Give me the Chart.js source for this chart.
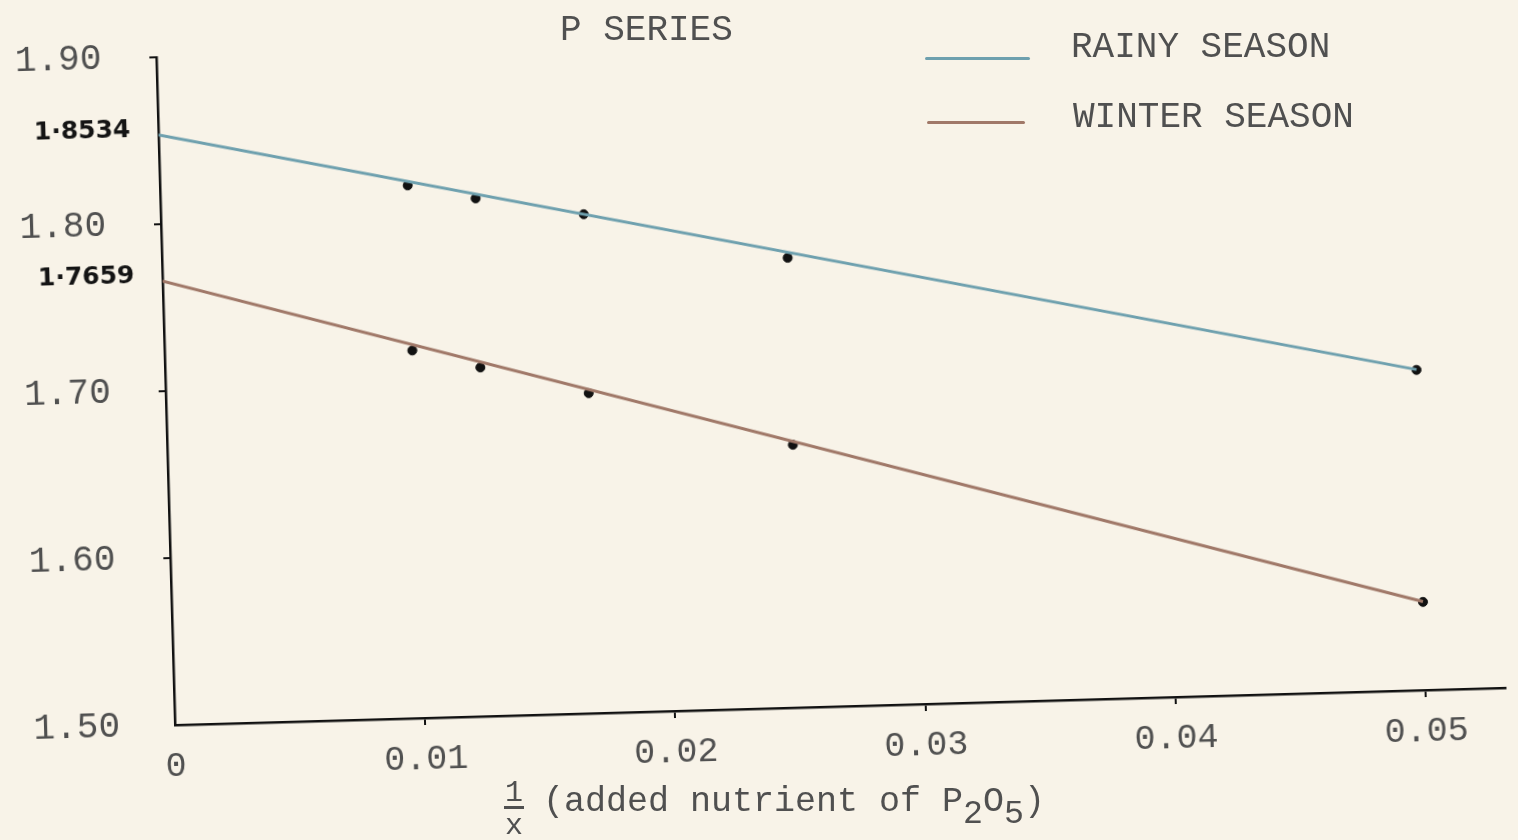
<!DOCTYPE html>
<html>
<head>
<meta charset="utf-8">
<title>P Series</title>
<script src="https://cdn.jsdelivr.net/npm/chart.js@4.4.1/dist/chart.umd.min.js"></script>
<style>
    html, body {
        margin: 0;
        padding: 0;
        width: 1518px;
        height: 840px;
        overflow: hidden;
        background: #f8f3e8;
        font-family: "Liberation Mono", "DejaVu Sans Mono", monospace;
        color: #505050;
    }
    #plot {
        position: absolute;
        left: 0;
        top: 0;
        width: 1518px;
        height: 840px;
        /* the scanned sheet sits slightly crooked */
        transform: rotate(-1.6deg);
        transform-origin: 175px 725px;
    }
    .typed {
        position: absolute;
        white-space: nowrap;
        line-height: 1;
    }
    .key {
        position: absolute;
        height: 3px;
        border-radius: 2px;
    }
    sub { font-size: 0.95em; vertical-align: -0.35em; line-height: 0; }
</style>
</head>
<body>
<div id="plot"><canvas id="chartP" width="1518" height="840"></canvas></div>

<div class="typed" style="left:560px; top:13px; font-size:36px;">P SERIES</div>

<div class="key" style="left:925px; top:57px; width:105px; background:#6ea0ae;"></div>
<div class="typed" id="lblRainy" style="left:1071px; top:30px; font-size:36px;"></div>
<div class="key" style="left:927px; top:121px; width:98px; background:#a07868;"></div>
<div class="typed" id="lblWinter" style="left:1073px; top:100px; font-size:36px;"></div>

<!-- x axis title: 1/x (added nutrient of P2O5) -->
<div class="typed" style="left:505px; top:778px; font-size:30px;">1</div>
<div style="position:absolute; left:504px; top:806px; width:20px; height:3px; background:#505050;"></div>
<div class="typed" style="left:505px; top:811px; font-size:30px;">x</div>
<div class="typed" style="left:543px; top:785px; font-size:35px;">(added nutrient of P<sub>2</sub>O<sub>5</sub>)</div>

<script>
// values
const seriesNames = ['RAINY SEASON', 'WINTER SEASON'];
const xObserved = [0.0099, 0.0126, 0.0169, 0.0250, 0.0500];
const rainyObserved = [1.8191, 1.8102, 1.7989, 1.7694, 1.6918];
const winterObserved = [1.7202, 1.7089, 1.6917, 1.6574, 1.5528];
const xFit = [0, 0.05];
const rainyFit = [1.8534, 1.6920];
const winterFit = [1.7659, 1.5530];
const xTicks = [0, 0.01, 0.02, 0.03, 0.04, 0.05];
const yTicks = [1.50, 1.60, 1.70, 1.80, 1.90];
const interceptLabels = ['1·8534', '1·7659'];
const interceptValues = [1.8534, 1.7659];

const rainyColor = '#6ea0ae';
const winterColor = '#a07868';

document.getElementById('lblRainy').textContent = seriesNames[0];
document.getElementById('lblWinter').textContent = seriesNames[1];

const toPoints = (xs, ys) => xs.map((x, i) => ({ x: x, y: ys[i] }));

// handwritten intercept values next to the y axis
const interceptPlugin = {
    id: 'intercepts',
    afterDraw(chart) {
        const ctx = chart.ctx;
        const yScale = chart.scales.y;
        ctx.save();
        ctx.font = 'bold 25px "DejaVu Sans"';
        ctx.fillStyle = '#141414';
        ctx.textAlign = 'right';
        ctx.textBaseline = 'middle';
        interceptValues.forEach((v, i) => {
            ctx.fillText(interceptLabels[i], chart.chartArea.left - 28, yScale.getPixelForValue(v) - 5);
        });
        ctx.restore();
    }
};

const tickFont = { family: '"Liberation Mono", "DejaVu Sans Mono", monospace', size: 36 };

const ctx = document.getElementById('chartP').getContext('2d');
new Chart(ctx, {
    type: 'scatter',
    data: {
        datasets: [
            {
                label: seriesNames[0],
                data: toPoints(xFit, rainyFit),
                showLine: true,
                borderColor: rainyColor,
                borderWidth: 3,
                pointRadius: 0
            },
            {
                label: seriesNames[1],
                data: toPoints(xFit, winterFit),
                showLine: true,
                borderColor: winterColor,
                borderWidth: 3,
                pointRadius: 0
            },
            {
                label: seriesNames[0] + ' (observed)',
                data: toPoints(xObserved, rainyObserved),
                pointRadius: 4.5,
                backgroundColor: '#111',
                borderColor: '#111'
            },
            {
                label: seriesNames[1] + ' (observed)',
                data: toPoints(xObserved, winterObserved),
                pointRadius: 4.5,
                backgroundColor: '#111',
                borderColor: '#111'
            }
        ]
    },
    options: {
        responsive: false,
        animation: false,
        layout: { padding: { top: 57, right: 12, left: 0, bottom: 0 } },
        plugins: {
            legend: { display: false },
            title: { display: false },
            tooltip: { enabled: false }
        },
        scales: {
            x: {
                type: 'linear',
                min: 0,
                max: 0.0532,
                afterFit: (scale) => {
                    scale.height = 115;
                    scale.paddingLeft = 0;
                    scale.paddingRight = 0;
                },
                afterBuildTicks: (scale) => { scale.ticks = xTicks.map(v => ({ value: v })); },
                border: { display: true, color: '#111', width: 2.5 },
                grid: {
                    drawOnChartArea: false,
                    tickLength: 7,
                    lineWidth: 2,
                    color: (c) => (c.tick && c.tick.value === 0) ? 'rgba(0,0,0,0)' : '#111'
                },
                ticks: {
                    autoSkip: false,
                    maxRotation: 0,
                    padding: 14,
                    color: '#505050',
                    font: { family: tickFont.family, size: 35 },
                    callback: (v) => v === 0 ? '0' : v.toFixed(2)
                }
            },
            y: {
                type: 'linear',
                min: 1.50,
                max: 1.90,
                afterFit: (scale) => {
                    scale.width = 175;
                    scale.paddingTop = 0;
                    scale.paddingBottom = 0;
                },
                afterBuildTicks: (scale) => { scale.ticks = yTicks.map(v => ({ value: v })); },
                border: { display: true, color: '#111', width: 2.5 },
                grid: {
                    drawOnChartArea: false,
                    tickLength: 7,
                    lineWidth: 2,
                    color: (c) => (c.tick && c.tick.value === 1.5) ? 'rgba(0,0,0,0)' : '#111'
                },
                ticks: {
                    autoSkip: false,
                    padding: 48,
                    color: '#505050',
                    font: tickFont,
                    callback: (v) => v.toFixed(2)
                }
            }
        }
    },
    plugins: [interceptPlugin]
});
</script>
</body>
</html>
